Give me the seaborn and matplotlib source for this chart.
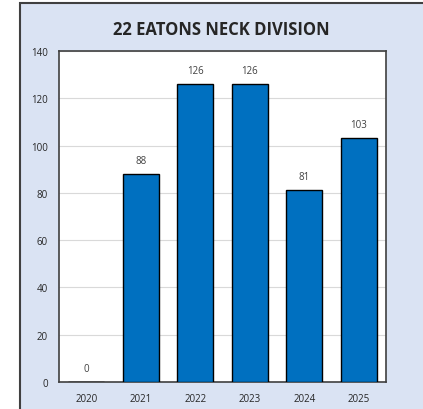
import matplotlib.pyplot as plt
import seaborn as sns
import pandas as pd
from matplotlib.patches import Rectangle

years = ["2020", "2021", "2022", "2023", "2024", "2025"]
counts = [0, 88, 126, 126, 81, 103]
title = "22 EATONS NECK DIVISION"

sns.set_theme(style="white")
plt.rcParams["font.family"] = ["Open Sans", "DejaVu Sans"]

df = pd.DataFrame({"year": years, "count": counts})

fig = plt.figure(figsize=(4.23, 4.10), dpi=100)
fig.patch.set_facecolor("white")

# light blue panel behind the chart
panel = Rectangle((20 / 423, -0.01), 1.0, 1 - 4 / 410 + 0.01, transform=fig.transFigure,
                  facecolor="#DAE3F3", edgecolor="#404040", linewidth=1.5, zorder=-1)
fig.patches.append(panel)

ax = fig.add_axes([59 / 423, 1 - 383 / 410, 327 / 423, 331 / 410])
ax.set_zorder(2)
ax.set_facecolor("white")

sns.barplot(data=df, x="year", y="count", color="#0070C0", saturation=1,
            edgecolor="black", linewidth=1.0, width=0.66, ax=ax, zorder=3)

ax.set_ylim(0, 140)
ax.set_yticks(range(0, 141, 20))
ax.yaxis.grid(True, color="#D9D9D9", linewidth=0.8, zorder=0)
ax.set_axisbelow(True)
ax.set_xlabel("")
ax.set_ylabel("")
ax.tick_params(axis="both", labelsize=7, colors="#262626", length=0, pad=8)
for s in ax.spines.values():
    s.set_color("#404040")
    s.set_linewidth(1.2)

for i, v in enumerate(counts):
    ax.annotate(str(v), (i, v), xytext=(0, 6), textcoords="offset points",
                ha="center", va="bottom", fontsize=7, color="#404040")

fig.text(0.5 + 10 / 423, 1 - 30 / 410, title, ha="center", va="center",
         fontsize=12, fontweight="bold", color="#262626")

fig.savefig("out.png", dpi=100)
